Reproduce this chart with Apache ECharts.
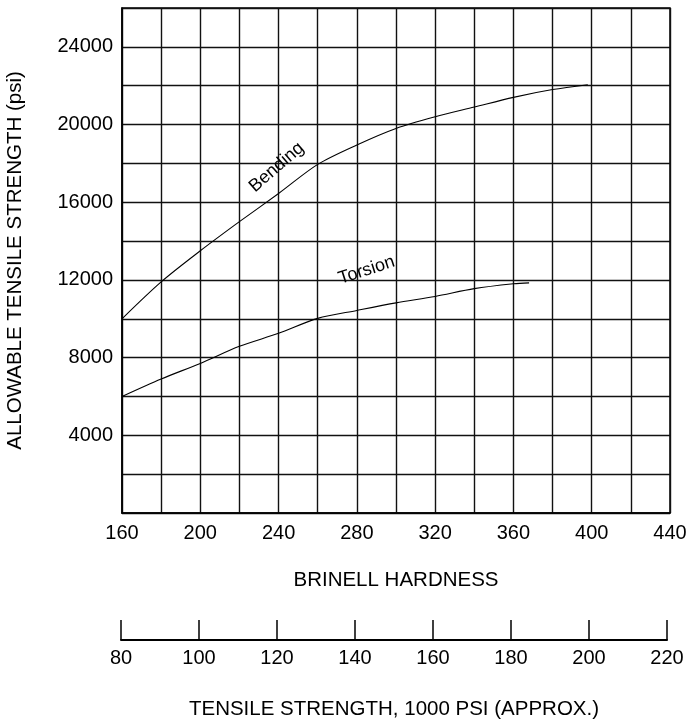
<!DOCTYPE html>
<html>
<head>
<meta charset="utf-8">
<title>Allowable tensile strength vs Brinell hardness</title>
<script src="https://cdn.jsdelivr.net/npm/echarts@6/dist/echarts.min.js"></script>
<style>
  html, body { margin: 0; padding: 0; background: #fff; }
  #chart { width: 686px; height: 719px; }
</style>
</head>
<body>
<div id="chart"></div>
<script>
// Brinell hardness readings (x) and allowable stress (psi)
var bendingHardness = [160, 180, 200, 220, 240, 260, 280, 300, 320, 340, 360, 380, 398];
var bendingValues   = [10000, 11900, 13500, 15000, 16450, 17950, 18950, 19800, 20400, 20900, 21400, 21800, 22050];
var torsionHardness = [160, 180, 200, 220, 240, 260, 280, 300, 320, 340, 360, 368];
var torsionValues   = [6000, 6900, 7700, 8580, 9250, 10020, 10430, 10820, 11150, 11550, 11800, 11850];
// label anchors for the curve names
var bendingLabelAt = [239, 17800];
var torsionLabelAt = [285, 12500];

var font = 'Liberation Sans, Arial, Helvetica, sans-serif';

function pairs(xs, ys) {
  var out = [];
  for (var i = 0; i < xs.length; i++) out.push([xs[i], ys[i]]);
  return out;
}

var chart = echarts.init(document.getElementById('chart'));
chart.setOption({
  animation: false,
  backgroundColor: '#fff',
  textStyle: { fontFamily: font, color: '#000' },
  grid: [
    { left: 122, right: 16, top: 8, bottom: 206, show: true, borderColor: '#000', borderWidth: 1.5,
      containLabel: false, outerBoundsMode: 'none' },
    { left: 121, right: 19, top: 640, height: 0, containLabel: false, outerBoundsMode: 'none' }
  ],
  xAxis: [{
    gridIndex: 0, type: 'value', min: 160, max: 440, interval: 20,
    name: 'BRINELL HARDNESS', nameLocation: 'middle', nameGap: 57,
    nameTextStyle: { fontSize: 20.5, color: '#000', fontFamily: font },
    axisLine: { lineStyle: { color: '#000', width: 1.5 } },
    axisTick: { show: false },
    axisLabel: {
      fontSize: 20, color: '#000', margin: 10, fontFamily: font,
      formatter: function (v) { return (v - 160) % 40 === 0 ? String(v) : ''; }
    },
    splitLine: { show: true, lineStyle: { color: '#111', width: 1.4 } }
  }, {
    gridIndex: 1, type: 'value', min: 80, max: 220, interval: 20,
    name: 'TENSILE STRENGTH, 1000 PSI (APPROX.)', nameLocation: 'middle', nameGap: 59,
    nameTextStyle: { fontSize: 20.5, color: '#000', fontFamily: font },
    axisLine: { lineStyle: { color: '#000', width: 2 } },
    axisTick: { show: true, inside: true, length: 20, lineStyle: { color: '#000', width: 1.5 } },
    axisLabel: { fontSize: 20, color: '#000', margin: 8, fontFamily: font },
    splitLine: { show: false }
  }],
  yAxis: [{
    gridIndex: 0, type: 'value', min: 0, max: 26000, interval: 2000,
    name: 'ALLOWABLE TENSILE STRENGTH (psi)', nameLocation: 'middle', nameGap: 96,
    nameTextStyle: { fontSize: 20.5, color: '#000', fontFamily: font },
    axisLine: { show: true, lineStyle: { color: '#000', width: 1.5 } },
    axisTick: { show: false },
    axisLabel: {
      fontSize: 20, color: '#000', margin: 9, fontFamily: font,
      formatter: function (v) { return (v % 4000 === 0 && v > 0 && v < 26000) ? String(v) : ''; }
    },
    splitLine: { show: true, lineStyle: { color: '#111', width: 1.4 } }
  }, {
    gridIndex: 1, type: 'value', show: false
  }],
  series: [{
    name: 'Bending', type: 'line', xAxisIndex: 0, yAxisIndex: 0,
    data: pairs(bendingHardness, bendingValues),
    smooth: 0.3, symbol: 'none',
    lineStyle: { color: '#000', width: 1.1 },
    markPoint: {
      symbol: 'circle', symbolSize: 0,
      label: { show: true, position: 'inside', rotate: 41, fontSize: 18, color: '#000', fontFamily: font, formatter: 'Bending' },
      data: [{ coord: bendingLabelAt }]
    }
  }, {
    name: 'Torsion', type: 'line', xAxisIndex: 0, yAxisIndex: 0,
    data: pairs(torsionHardness, torsionValues),
    smooth: 0.3, symbol: 'none',
    lineStyle: { color: '#000', width: 1.1 },
    markPoint: {
      symbol: 'circle', symbolSize: 0,
      label: { show: true, position: 'inside', rotate: 18, fontSize: 18, color: '#000', fontFamily: font, formatter: 'Torsion' },
      data: [{ coord: torsionLabelAt }]
    }
  }]
});
</script>
</body>
</html>
